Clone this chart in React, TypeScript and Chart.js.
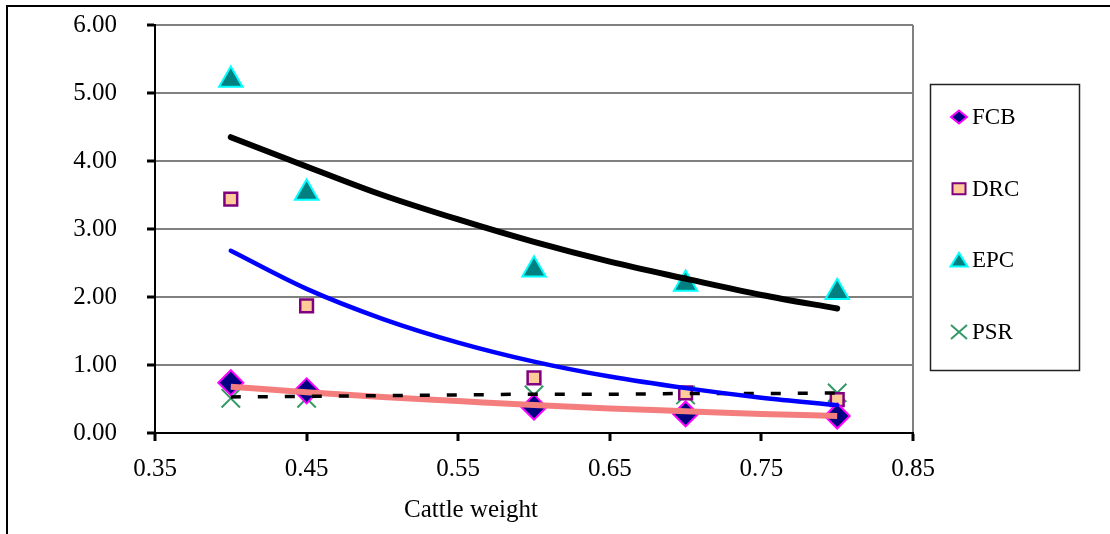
import React, { useEffect, useRef } from 'react';
import { Chart, registerables } from 'chart.js';

Chart.register(...registerables);

// ---- data ----
const xValues = [0.4, 0.45, 0.6, 0.7, 0.8];
const fcbValues = [0.74, 0.62, 0.38, 0.28, 0.25];
const drcValues = [3.44, 1.87, 0.81, 0.59, 0.49];
const epcValues = [5.19, 3.53, 2.4, 2.19, 2.07];
const psrValues = [0.51, 0.51, 0.56, 0.56, 0.59];

// trend lines
const trendX = [0.4, 0.45, 0.5, 0.55, 0.6, 0.65, 0.7, 0.75, 0.8];
const epcTrend = [4.35, 3.92, 3.5, 3.14, 2.81, 2.52, 2.27, 2.03, 1.83];
const drcTrend = [2.68, 2.12, 1.68, 1.33, 1.05, 0.83, 0.66, 0.52, 0.41];
const fcbTrend = [0.68, 0.6, 0.53, 0.47, 0.41, 0.36, 0.32, 0.28, 0.25];
const psrTrend = [0.53, 0.54, 0.55, 0.56, 0.57, 0.57, 0.58, 0.58, 0.59];

const xTickValues = [0.35, 0.45, 0.55, 0.65, 0.75, 0.85];
const yTickValues = [0, 1, 2, 3, 4, 5, 6];
const xAxisTitle = 'Cattle weight';

const FONT = "'Liberation Serif', 'Times New Roman', serif";

const pts = (xs: number[], ys: number[]) => xs.map((x, i) => ({ x, y: ys[i] }));

type LegendMarker = { label: string; kind: string; fill: string; stroke: string };
const legendMarkers: LegendMarker[] = [
  { label: 'FCB', kind: 'diamond', fill: '#000080', stroke: '#FF00FF' },
  { label: 'DRC', kind: 'square', fill: '#FFCC99', stroke: '#800080' },
  { label: 'EPC', kind: 'triangle', fill: '#008080', stroke: '#00FFFF' },
  { label: 'PSR', kind: 'cross', fill: '#339966', stroke: '#339966' },
];

function drawLegendMarker(ctx: CanvasRenderingContext2D, m: LegendMarker, x: number, y: number) {
  ctx.save();
  ctx.lineWidth = 2;
  ctx.fillStyle = m.fill;
  ctx.strokeStyle = m.stroke;
  ctx.beginPath();
  if (m.kind === 'diamond') {
    ctx.moveTo(x, y - 6.5);
    ctx.lineTo(x + 8, y);
    ctx.lineTo(x, y + 6.5);
    ctx.lineTo(x - 8, y);
    ctx.closePath();
    ctx.fill();
    ctx.stroke();
  } else if (m.kind === 'square') {
    ctx.rect(x - 6.5, y - 5.5, 13, 11);
    ctx.fill();
    ctx.stroke();
  } else if (m.kind === 'triangle') {
    ctx.moveTo(x, y - 7.5);
    ctx.lineTo(x + 8.5, y + 6);
    ctx.lineTo(x - 8.5, y + 6);
    ctx.closePath();
    ctx.fill();
    ctx.stroke();
  } else {
    ctx.moveTo(x - 8, y - 7);
    ctx.lineTo(x + 8, y + 7);
    ctx.moveTo(x + 8, y - 7);
    ctx.lineTo(x - 8, y + 7);
    ctx.stroke();
  }
  ctx.restore();
}

const decorPlugin = {
  id: 'decor',
  beforeDraw(chart: any) {
    const ctx = chart.ctx as CanvasRenderingContext2D;
    ctx.save();
    ctx.fillStyle = '#ffffff';
    ctx.fillRect(0, 0, chart.width, chart.height);
    ctx.strokeStyle = '#000000';
    ctx.lineWidth = 2;
    ctx.beginPath();
    ctx.moveTo(7, 534);
    ctx.lineTo(7, 6);
    ctx.lineTo(1110, 6);
    ctx.stroke();
    ctx.restore();
  },
  afterDraw(chart: any) {
    const ctx = chart.ctx as CanvasRenderingContext2D;
    ctx.save();
    // legend box
    ctx.strokeStyle = '#222222';
    ctx.lineWidth = 1.5;
    ctx.strokeRect(930.5, 84.5, 149, 286);
    ctx.font = `23px ${FONT}`;
    ctx.fillStyle = '#000000';
    ctx.textBaseline = 'middle';
    ctx.textAlign = 'left';
    legendMarkers.forEach((m, i) => {
      const y = 117 + i * 71.7;
      drawLegendMarker(ctx, m, 959, y);
      ctx.fillStyle = '#000000';
      ctx.fillText(m.label, 972, y + 1);
    });
    // x axis title
    ctx.font = `25px ${FONT}`;
    ctx.textAlign = 'center';
    ctx.fillText(xAxisTitle, 471, 510);
    ctx.restore();
  },
};

export default function App() {
  const ref = useRef<HTMLCanvasElement>(null);

  useEffect(() => {
    if (!ref.current) return;
    const chart = new Chart(ref.current, {
      type: 'scatter',
      data: {
        datasets: [
          {
            label: 'EPC trend',
            data: pts(trendX, epcTrend),
            showLine: true,
            borderColor: '#000000',
            borderWidth: 6,
            pointRadius: 0,
            cubicInterpolationMode: 'monotone',
            borderCapStyle: 'round',
          } as any,
          {
            label: 'DRC trend',
            data: pts(trendX, drcTrend),
            showLine: true,
            borderColor: '#0000FF',
            borderWidth: 4.5,
            pointRadius: 0,
            cubicInterpolationMode: 'monotone',
            borderCapStyle: 'round',
          } as any,
          {
            label: 'PSR trend',
            data: pts(trendX, psrTrend),
            showLine: true,
            borderColor: '#000000',
            borderWidth: 3.5,
            borderDash: [10, 17],
            pointRadius: 0,
            cubicInterpolationMode: 'monotone',
          } as any,
          {
            label: 'FCB trend',
            data: pts(trendX, fcbTrend),
            showLine: true,
            borderColor: '#F47E7E',
            borderWidth: 6,
            pointRadius: 0,
            cubicInterpolationMode: 'monotone',
          } as any,
          {
            label: 'FCB',
            data: pts(xValues, fcbValues),
            pointStyle: 'rectRot',
            pointRadius: 12.5,
            pointBackgroundColor: '#000080',
            pointBorderColor: '#FF00FF',
            pointBorderWidth: 2,
          },
          {
            label: 'DRC',
            data: pts(xValues, drcValues),
            pointStyle: 'rect',
            pointRadius: 9,
            pointBackgroundColor: '#FFCC99',
            pointBorderColor: '#800080',
            pointBorderWidth: 2.5,
          },
          {
            label: 'EPC',
            data: pts(xValues, epcValues),
            pointStyle: 'triangle',
            pointRadius: 13.5,
            pointBackgroundColor: '#008080',
            pointBorderColor: '#00FFFF',
            pointBorderWidth: 2,
          },
          {
            label: 'PSR',
            data: pts(xValues, psrValues),
            pointStyle: 'crossRot',
            pointRadius: 13,
            pointBackgroundColor: '#339966',
            pointBorderColor: '#339966',
            pointBorderWidth: 2,
          },
        ],
      },
      options: {
        animation: false,
        responsive: false,
        devicePixelRatio: 1,
        layout: { padding: { left: 0, top: 25, right: 197, bottom: 0 } },
        plugins: {
          legend: { display: false },
          tooltip: { enabled: false },
        },
        scales: {
          x: {
            type: 'linear',
            min: 0.35,
            max: 0.85,
            afterBuildTicks: (scale: any) => {
              scale.ticks = xTickValues.map((v) => ({ value: v }));
            },
            afterFit: (scale: any) => {
              scale.height = 101;
              scale.paddingLeft = 0;
              scale.paddingRight = 0;
            },
            ticks: {
              color: '#000000',
              font: { family: FONT, size: 25 },
              padding: 13,
              maxRotation: 0,
              autoSkip: false,
              callback: (v: any) => Number(v).toFixed(2),
            },
            grid: {
              color: (c: any) => (c.index === xTickValues.length - 1 ? '#808080' : 'rgba(0,0,0,0)'),
              lineWidth: 2,
              tickColor: '#000000',
              tickLength: 8,
              tickWidth: 3,
            },
            border: { color: '#000000', width: 2 },
          },
          y: {
            type: 'linear',
            min: 0,
            max: 6,
            afterBuildTicks: (scale: any) => {
              scale.ticks = yTickValues.map((v) => ({ value: v }));
            },
            afterFit: (scale: any) => {
              scale.width = 155;
              scale.paddingTop = 0;
              scale.paddingBottom = 0;
            },
            ticks: {
              color: '#000000',
              font: { family: FONT, size: 25 },
              padding: 30,
              callback: (v: any) => Number(v).toFixed(2),
            },
            grid: {
              color: '#808080',
              lineWidth: 2,
              tickColor: '#000000',
              tickLength: 8,
              tickWidth: 3,
            },
            border: { color: '#000000', width: 2 },
          },
        },
      } as any,
      plugins: [decorPlugin],
    });
    return () => chart.destroy();
  }, []);

  return (
    <div style={{ position: 'absolute', left: 0, top: 0, width: 1110, height: 534 }}>
      <canvas ref={ref} width={1110} height={534} style={{ display: 'block', width: 1110, height: 534 }} />
    </div>
  );
}
